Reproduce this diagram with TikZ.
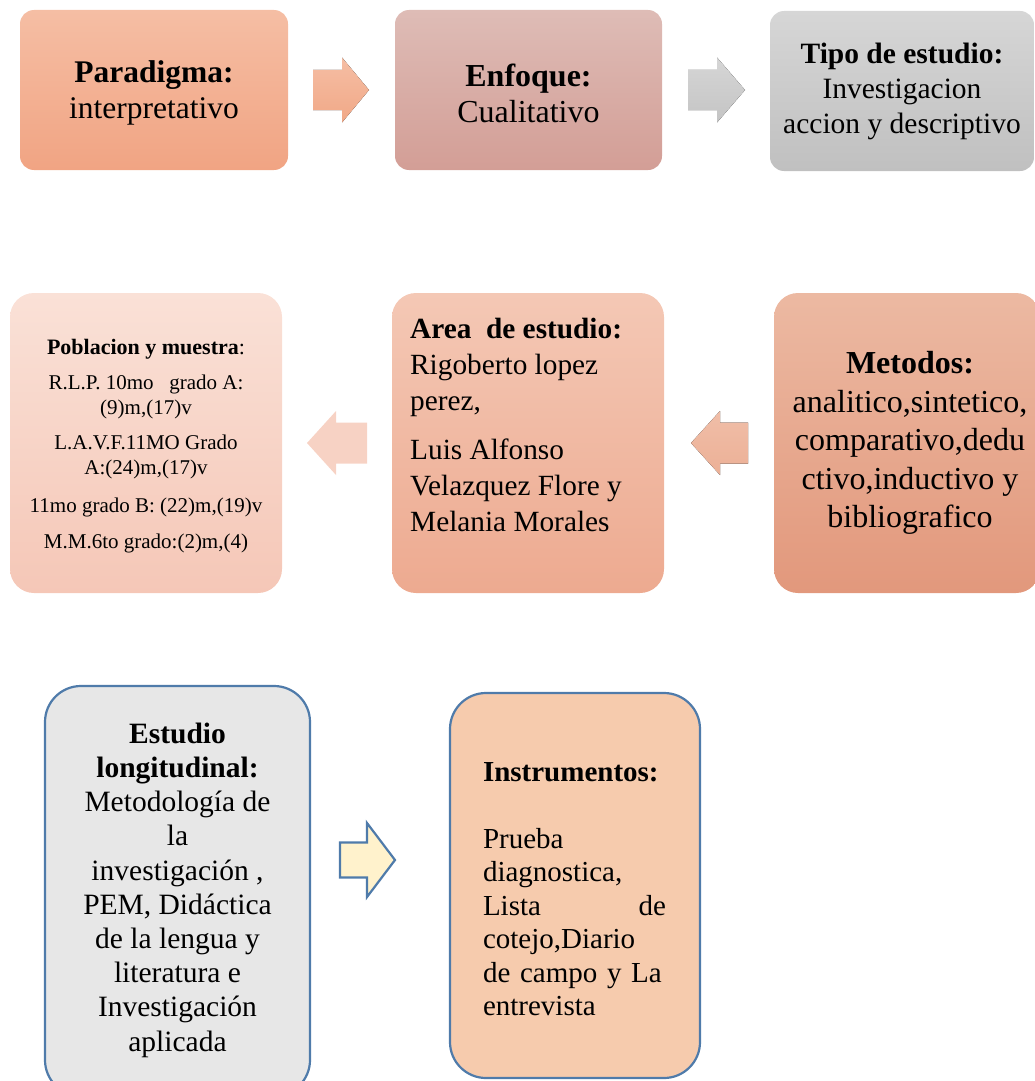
\documentclass[tikz,border=0pt]{standalone}
\usepackage{fontspec}
\setmainfont{Liberation Serif}
\definecolor{blueline}{HTML}{4F7BAA}
\begin{document}
\begin{tikzpicture}[x=1pt,y=-1pt,
  topbox/.style={rounded corners=14pt, minimum height=160pt, inner sep=0pt, align=center},
  midbox/.style={rounded corners=24pt, minimum width=272pt, minimum height=300pt, inner sep=0pt},
  lowbox/.style={draw=blueline, line width=2.2pt, rounded corners=36pt, inner sep=0pt},
  blockarrow/.style={line join=miter}
]
\useasboundingbox (0,0) rectangle (1035,1081);
\clip (0,0) rectangle (1035,1081);

% ---------- top row ----------
\node[topbox, font=\fontsize{31.5}{36}\selectfont, minimum width=268pt, top color={rgb,255:red,245;green,190;blue,164}, bottom color={rgb,255:red,241;green,164;blue,131}]
  (par) at (154,90) {};
\node[align=center, inner sep=0pt, font=\fontsize{31.5}{36}\selectfont] (partxt) at (154,93) {\textbf{Paradigma:}\\interpretativo};
\node[topbox, minimum width=267pt, top color={rgb,255:red,222;green,188;blue,182}, bottom color={rgb,255:red,211;green,158;blue,150}]
  (enf) at (528.5,90) {};
\node[align=center, inner sep=0pt, font=\fontsize{32}{36}\selectfont] (enftxt) at (528.5,93) {\textbf{Enfoque:}\\Cualitativo};
\node[topbox, font=\fontsize{29.5}{35}\selectfont, minimum width=264pt, top color={rgb,255:red,214;green,214;blue,214}, bottom color={rgb,255:red,192;green,192;blue,192}]
  (tip) at (902,91) {\textbf{Tipo de estudio:}\\Investigacion\\accion y descriptivo};

% arrows top row
\fill[blockarrow, top color={rgb,255:red,245;green,190;blue,164}, bottom color={rgb,255:red,241;green,168;blue,135}]
  (313,70) -- (342,70) -- (342,57.5) -- (369,90) -- (342,122.5) -- (342,110) -- (313,110) -- cycle;
\fill[blockarrow, top color={rgb,255:red,214;green,214;blue,214}, bottom color={rgb,255:red,196;green,196;blue,196}]
  (688,70) -- (717,70) -- (717,57.5) -- (745,90) -- (717,122.5) -- (717,110) -- (688,110) -- cycle;

% ---------- middle row ----------
\node[midbox, top color={rgb,255:red,250;green,225;blue,215}, bottom color={rgb,255:red,245;green,199;blue,183}]
  (pob) at (146,443) {};
\node[align=center, inner sep=0pt, font=\fontsize{21}{24.5}\selectfont] (pobtxt) at (146,446) {%
  {\fontsize{22}{24.5}\selectfont\textbf{Poblacion y muestra}:}\\[11pt]
  R.L.P. 10mo\hspace{0.75em}grado A:\\(9)m,(17)v\\[11pt]
  L.A.V.F.11MO Grado\\A:(24)m,(17)v\\[13.5pt]
  11mo grado B: (22)m,(19)v\\[12pt]
  M.M.6to grado:(2)m,(4)};

\node[midbox, top color={rgb,255:red,244;green,200;blue,181}, bottom color={rgb,255:red,237;green,170;blue,144}]
  (area) at (528,443) {};
\node[align=left, anchor=north west, inner sep=0pt, font=\fontsize{29.3}{36}\selectfont] (areatxt) at (410,317.5) {%
  \textbf{Area\ \ de estudio:}\\Rigoberto lopez\\perez,\\[13pt]Luis Alfonso\\Velazquez Flore y\\Melania Morales};

\node[midbox, minimum width=266pt, top color={rgb,255:red,236;green,185;blue,162}, bottom color={rgb,255:red,226;green,152;blue,124}]
  (met) at (907,443) {};
\node[align=center, inner sep=0pt, font=\fontsize{32}{38.5}\selectfont] (mettxt) at (910,443) {%
  \textbf{Metodos:}\\analitico,sintetico,\\comparativo,dedu\\ctivo,inductivo y\\bibliografico};

% arrows middle row (pointing left)
\fill[blockarrow, fill={rgb,255:red,247;green,210;blue,196}]
  (367,422.5) -- (336,422.5) -- (336,411) -- (307,443) -- (336,475) -- (336,463.5) -- (367,463.5) -- cycle;
\fill[blockarrow, top color={rgb,255:red,240;green,190;blue,168}, bottom color={rgb,255:red,236;green,176;blue,150}]
  (748,422.5) -- (720,422.5) -- (720,411) -- (691,443) -- (720,475) -- (720,463.5) -- (748,463.5) -- cycle;

% ---------- bottom row ----------
\node[lowbox, fill={rgb,255:red,231;green,231;blue,231}, minimum width=265pt, minimum height=410pt] (est) at (177.5,891) {};
\node[align=center, inner sep=0pt, font=\fontsize{29.5}{34.2}\selectfont] (esttxt) at (177.5,890) {%
  \textbf{Estudio}\\\textbf{longitudinal:}\\Metodología de\\la\\investigación ,\\PEM, Didáctica\\de la lengua y\\literatura e\\Investigación\\aplicada};

\node[lowbox, fill={rgb,255:red,246;green,203;blue,173}, minimum width=250pt, minimum height=385pt] (ins) at (575,885.5) {};
\node[align=left, inner sep=0pt, text width=183pt, font=\fontsize{29}{33.5}\selectfont] (instxt) at (574.5,889) {%
  \textbf{Instrumentos:}\\[33.5pt]Prueba\\diagnostica,\\\makebox[183pt][s]{Lista\hfill de}\\cotejo,Diario\\de campo y La\\entrevista};

\draw[blockarrow, draw=blueline, line width=2.2pt, fill={rgb,255:red,255;green,242;blue,204}]
  (340,842.5) -- (367,842.5) -- (367,823) -- (395,860) -- (367,897) -- (367,877.5) -- (340,877.5) -- cycle;
\end{tikzpicture}
\end{document}
